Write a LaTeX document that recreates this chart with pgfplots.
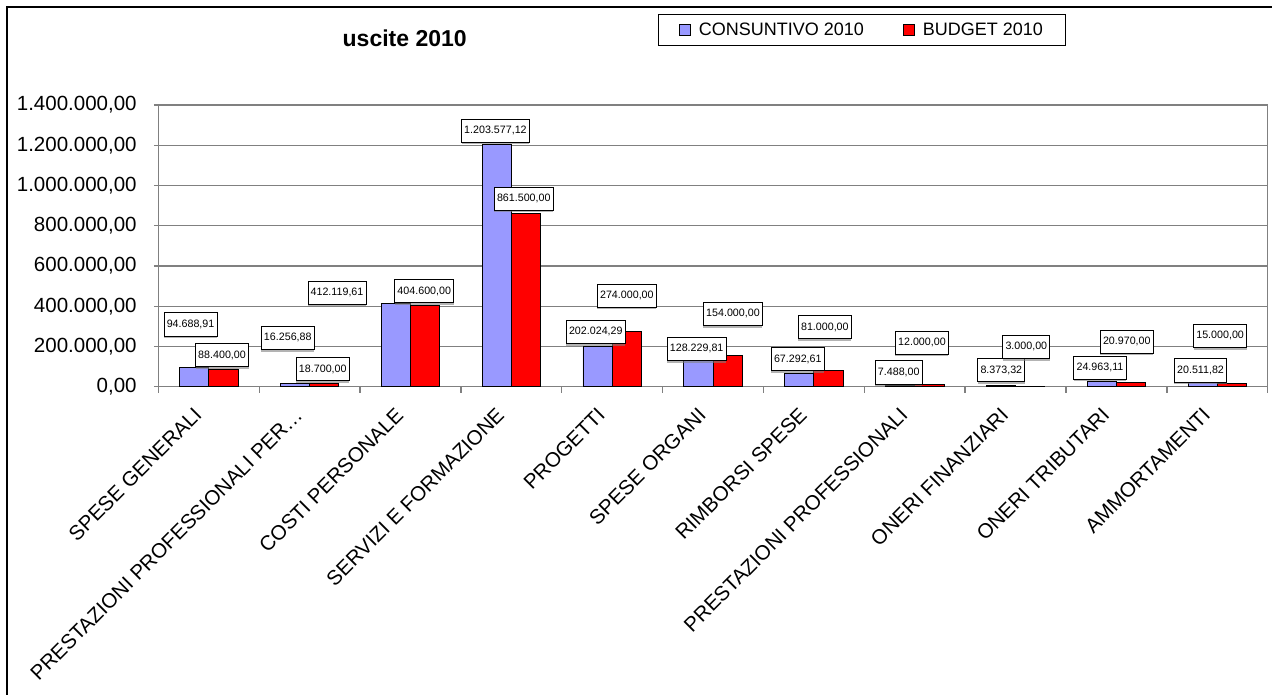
\documentclass[border=0pt]{standalone}
\usepackage{fontspec}
\setmainfont{Liberation Sans}
\usepackage{pgfplots}
\usepackage{pgfplotstable}
\pgfplotsset{compat=1.18}
\usetikzlibrary{shadows}
\definecolor{consblue}{HTML}{9999FF}
\definecolor{budred}{HTML}{FF0000}
\definecolor{gridgray}{HTML}{808080}

% valori delle barre
\pgfplotstableread{
x y
0 94688.91
1 16256.88
2 412119.61
3 1203577.12
4 202024.29
5 128229.81
6 67292.61
7 7488.00
8 8373.32
9 24963.11
10 20511.82
}\consuntivo
\pgfplotstableread{
x y
0 88400
1 18700
2 404600
3 861500
4 274000
5 154000
6 81000
7 12000
8 3000
9 20970
10 15000
}\budget
% posizione delle etichette (come nel grafico Excel)
\pgfplotstableread{
x y t
-0.180 309450 94.688,91
0.784 242290 16.256,88
1.272 466170 412.119,61
2.843 1272130 1.203.577,12
3.838 272140 202.024,29
4.838 187560 128.229,81
5.841 136810 67.292,61
6.842 70650 7.488,00
7.859 81590 8.373,32
8.837 94530 24.963,11
9.834 80600 20.511,82
0.132 156220 88.400,00
1.131 87060 18.700,00
2.137 474620 404.600,00
3.124 933820 861.500,00
4.146 452240 274.000,00
5.198 361690 154.000,00
6.109 296020 81.000,00
7.072 218400 12.000,00
8.107 197510 3.000,00
9.103 223880 20.970,00
10.028 252240 15.000,00
}\etichette

\pgfplotsset{sq legend/.style={legend image code/.code={
  \draw[##1, line width=0.8pt] (0pt,-5.5pt) rectangle (11pt,5.5pt);}}}

\begin{document}
\begin{tikzpicture}
\useasboundingbox (0pt,0pt) rectangle (1272pt,695pt);
\draw[line width=2pt] (6.7pt,0pt) -- (6.7pt,687.7pt) -- (1272pt,687.7pt);
\node[font=\bfseries\fontsize{23}{27}\selectfont] at (404.7pt,656.7pt) {uscite 2010};
\begin{axis}[
  at={(158.3pt,308.3pt)}, anchor=south west,
  scale only axis, width=1109.4pt, height=281.7pt,
  xmin=-0.5, xmax=10.5, ymin=0, ymax=1400000,
  enlargelimits=false, clip=false,
  axis line style={gridgray, line width=1.3pt},
  ymajorgrids, major grid style={gridgray, line width=1.3pt},
  xtick pos=bottom, ytick pos=left,
  tick align=outside, major tick length=4.5pt, minor tick length=6pt,
  ytick style={gridgray, line width=1.3pt},
  major x tick style={draw=none},
  minor x tick style={gridgray, line width=1.3pt},
  minor xtick={-0.5,0.5,...,10.5},
  scaled y ticks=false,
  ytick={0,200000,400000,600000,800000,1000000,1200000,1400000},
  yticklabels={{0,00},{200.000,00},{400.000,00},{600.000,00},{800.000,00},{1.000.000,00},{1.200.000,00},{1.400.000,00}},
  yticklabel style={font=\fontsize{20.5}{24}\selectfont, anchor=east, inner sep=0pt, xshift=-17pt},
  xtick={0,...,10},
  xticklabels={SPESE GENERALI, PRESTAZIONI PROFESSIONALI PER…, COSTI PERSONALE, SERVIZI E FORMAZIONE, PROGETTI, SPESE ORGANI, RIMBORSI SPESE, PRESTAZIONI PROFESSIONALI, ONERI FINANZIARI, ONERI TRIBUTARI, AMMORTAMENTI},
  xticklabel style={font=\fontsize{20.5}{24}\selectfont, xshift=-16pt, yshift=-15pt, rotate=45, anchor=north east, inner sep=0pt},
  legend columns=2,
  legend style={at={(0.6343,1.267)}, anchor=center, draw=black, line width=1.2pt,
    font=\fontsize{18}{21}\selectfont, inner xsep=21pt, inner ysep=6.5pt,
    /tikz/every odd column/.append style={column sep=6pt},
    /tikz/every even column/.append style={column sep=37pt}},
]
\addplot[ybar, bar width=0.29, bar shift=-0.145, fill=consblue, draw=black, line width=0.8pt, sq legend]
  table[x=x, y=y] {\consuntivo};
\addlegendentry{CONSUNTIVO 2010}
\addplot[ybar, bar width=0.29, bar shift=0.145, fill=budred, draw=black, line width=0.8pt, sq legend]
  table[x=x, y=y] {\budget};
\addlegendentry{BUDGET 2010}
\addplot[forget plot, draw=none, mark=none, nodes near coords, point meta=explicit symbolic,
  every node near coord/.style={anchor=center, draw=black, line width=0.8pt, fill=white,
    drop shadow={shadow xshift=0pt, shadow yshift=-2pt, opacity=0.6, fill=gray},
    font=\fontsize{10.7}{12}\selectfont, inner xsep=2.7pt, inner ysep=6.8pt,
    text height=7.8pt, text depth=1.8pt}]
  table[x=x, y=y, meta=t] {\etichette};
\end{axis}
\end{tikzpicture}
\end{document}
